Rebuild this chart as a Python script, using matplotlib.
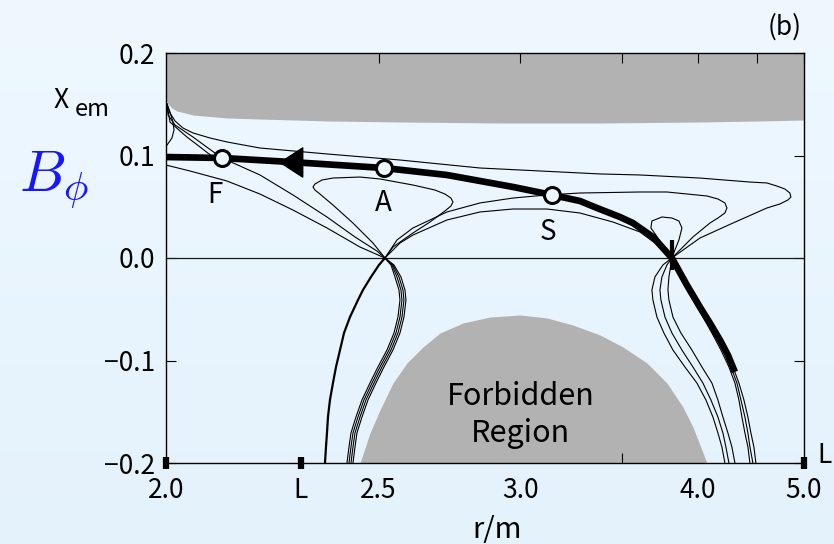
import numpy as np
import matplotlib
matplotlib.use("Agg")
import matplotlib.pyplot as plt
from matplotlib.ticker import FixedLocator, NullFormatter, NullLocator
from matplotlib.colors import LinearSegmentedColormap

plt.rcParams['font.family'] = ['Noto Sans CJK JP', 'DejaVu Sans']
plt.rcParams['mathtext.fontset'] = 'cm'

# ---------------- data (r in m, B_phi / X_em) ----------------
# upper forbidden band: lower edge
top_r = [2.0, 2.0038, 2.0113, 2.0209, 2.0364, 2.0521, 2.1217, 2.1939, 2.3568,
         2.5642, 2.9157, 3.3790, 4.0171, 4.5304, 5.0]
top_b = [0.1541, 0.1502, 0.1463, 0.1434, 0.1415, 0.1395, 0.1366, 0.1356, 0.1337,
         0.1327, 0.1317, 0.1317, 0.1327, 0.1337, 0.1346]

# lower forbidden region: upper edge
forb_r = [2.4463, 2.4747, 2.5038, 2.5427, 2.5860, 2.6373, 2.6941, 2.7750, 2.8763,
          2.9979, 3.1165, 3.2399, 3.3790, 3.5071, 3.6515, 3.7814, 3.8921, 3.9646,
          4.0171, 4.0708]
forb_b = [-0.2000, -0.1707, -0.1483, -0.1220, -0.1024, -0.0868, -0.0732, -0.0634,
          -0.0576, -0.0556, -0.0585, -0.0654, -0.0751, -0.0868, -0.1024, -0.1220,
          -0.1454, -0.1649, -0.1824, -0.2000]

# main trajectory (thick)
main_r = [2.000, 2.111, 2.264, 2.516, 2.718, 2.969, 3.140, 3.275, 3.363, 3.490,
          3.566, 3.690, 3.815, 3.920, 4.017, 4.094, 4.175, 4.241, 4.301]
main_b = [0.0985, 0.0976, 0.0937, 0.0878, 0.0810, 0.0693, 0.0615, 0.0556, 0.0488,
          0.0400, 0.0341, 0.0205, 0.0, -0.0263, -0.0478, -0.0634, -0.0800,
          -0.0946, -0.1112]

# marked points on the trajectory
pt_names = ["F", "A", "S"]
pt_r = [2.1112, 2.5157, 3.1395]
pt_b = [0.0976, 0.0878, 0.0615]
arrow_r, arrow_b = 2.2664, 0.0937

# X-points
xpt_left = (2.5186, 0.0)
xpt_right = (3.8153, 0.0)

# thin curves above the axis
c1_r = [2.0019, 2.0075, 2.0171, 2.0325, 2.0521, 2.0863, 2.1217, 2.1939, 2.3568,
        2.5642, 2.8379, 3.3790, 3.6082, 4.0171, 4.4360, 4.5990, 4.7006, 4.7852,
        4.8395, 4.8506, 4.8177, 4.7319, 4.5990, 4.2841, 4.0171, 3.8153]
c1_b = [0.1502, 0.1415, 0.1337, 0.1268, 0.1220, 0.1171, 0.1132, 0.1073, 0.1015,
        0.0956, 0.0878, 0.0820, 0.0810, 0.0780, 0.0741, 0.0732, 0.0702, 0.0673,
        0.0634, 0.0595, 0.0566, 0.0527, 0.0488, 0.0341, 0.0195, 0.0]

c2_r = [2.5186, 2.5550, 2.6050, 2.7182, 2.8379, 2.9686, 3.1165, 3.2748, 3.6082,
        3.7814, 4.0708, 4.1584, 4.2160, 4.2330, 4.2160, 4.1584, 4.0943, 3.9646,
        3.8153]
c2_b = [0.0, 0.0176, 0.0293, 0.0449, 0.0537, 0.0585, 0.0615, 0.0634, 0.0644,
        0.0644, 0.0605, 0.0576, 0.0537, 0.0488, 0.0439, 0.0390, 0.0341, 0.0205,
        0.0]

c3_r = [2.5186, 2.5642, 2.6050, 2.7182, 2.8379, 2.9686, 3.1165, 3.2748, 3.4502,
        3.6082, 3.7023, 3.8153]
c3_b = [0.0, 0.0146, 0.0224, 0.0371, 0.0449, 0.0478, 0.0478, 0.0439, 0.0351,
        0.0254, 0.0146, 0.0]

c4_r = [2.5186, 2.4834, 2.4267, 2.3725, 2.3386, 2.3258, 2.3208, 2.3258, 2.3438,
        2.3725, 2.4463, 2.5038, 2.6050, 2.6772, 2.7113, 2.7322, 2.7392, 2.7322,
        2.7113, 2.6604, 2.6050, 2.5427, 2.5186]
c4_b = [0.0, 0.0146, 0.0341, 0.0517, 0.0624, 0.0663, 0.0693, 0.0722, 0.0761,
        0.0780, 0.0790, 0.0771, 0.0712, 0.0663, 0.0624, 0.0585, 0.0546, 0.0507,
        0.0459, 0.0351, 0.0244, 0.0107, 0.0]

c5_r = [2.0019, 2.0038, 2.0171, 2.0521, 2.0966, 2.1112, 2.1939, 2.2712, 2.3568,
        2.4323, 2.4950, 2.5186]
c5_b = [0.1502, 0.1395, 0.1298, 0.1180, 0.1024, 0.0976, 0.0810, 0.0615, 0.0400,
        0.0205, 0.0068, 0.0]

c5b_r = [2.0019, 2.0075, 2.0267, 2.0403, 2.0661, 2.0925, 2.1175]
c5b_b = [0.1502, 0.1327, 0.1239, 0.1180, 0.1083, 0.0985, 0.0927]

c6_r = [2.0, 2.0461, 2.1217, 2.1939, 2.2712, 2.3568, 2.4463, 2.5186]
c6_b = [0.0907, 0.0849, 0.0751, 0.0624, 0.0468, 0.0293, 0.0107, 0.0]

c7_r = [3.8153, 3.7681, 3.7218, 3.6767, 3.6831, 3.7480, 3.8153, 3.8638, 3.8850,
        3.8638, 3.8358, 3.8153]
c7_b = [0.0, 0.0098, 0.0195, 0.0293, 0.0361, 0.0400, 0.0390, 0.0361, 0.0293,
        0.0176, 0.0078, 0.0]

c8_r = [2.0019, 2.0075, 2.0132, 2.0152, 2.0113, 2.0019]
c8_b = [0.1502, 0.1424, 0.1327, 0.1249, 0.1171, 0.1102]

# thin curves below the axis (shared B levels)
low_b = [0.0, -0.0068, -0.0185, -0.0312, -0.0410, -0.0576, -0.0732, -0.0898,
         -0.1063, -0.1220, -0.1385, -0.1551, -0.1707, -0.1844, -0.2]

low_left = [
    [2.5186, 2.5009, 2.4776, 2.4547, 2.4406, 2.4184, 2.4021, 2.3913, 2.3806,
     2.3725, 2.3646, 2.3594, 2.3568, 2.3542, 2.3516],
    [2.5186, 2.5458, 2.5673, 2.5798, 2.5829, 2.5766, 2.5642, 2.5427, 2.5157,
     2.4921, 2.4690, 2.4519, 2.4378, 2.4323, 2.4267],
    [2.5186, 2.5427, 2.5611, 2.5735, 2.5766, 2.5704, 2.5580, 2.5367, 2.5097,
     2.4863, 2.4632, 2.4463, 2.4323, 2.4267, 2.4212],
    [2.5186, 2.5397, 2.5550, 2.5673, 2.5704, 2.5642, 2.5518, 2.5306, 2.5038,
     2.4805, 2.4575, 2.4406, 2.4267, 2.4212, 2.4157],
    [2.5186, 2.5367, 2.5488, 2.5611, 2.5642, 2.5580, 2.5458, 2.5246, 2.4979,
     2.4747, 2.4519, 2.4350, 2.4212, 2.4157, 2.4102],
]
low_right = [
    [3.8153, 3.7546, 3.7023, 3.6831, 3.6895, 3.7153, 3.7612, 3.8222, 3.9064,
     3.9944, 4.0631, 4.1181, 4.1584, 4.1911, 4.2160],
    [3.8153, 3.7814, 3.7480, 3.7348, 3.7414, 3.7681, 3.8153, 3.8850, 3.9646,
     4.0399, 4.1022, 4.1584, 4.1994, 4.2244, 4.2499],
    [3.8153, 3.8083, 3.7948, 3.7882, 3.7948, 3.8222, 3.8779, 3.9573, 4.0323,
     4.1101, 4.1584, 4.1994, 4.2413, 4.2754, 4.3015],
    [3.8153, 3.8358, 3.8779, 3.9208, 3.9646, 4.0399, 4.1101, 4.1829, 4.2499,
     4.3015, 4.3365, 4.3632, 4.3902, 4.4175, 4.4360],
    [3.8153, 3.8427, 3.8850, 3.9353, 3.9795, 4.0553, 4.1261, 4.1994, 4.2668,
     4.3189, 4.3543, 4.3902, 4.4175, 4.4360, 4.4639],
    [3.8153, 3.8497, 3.8921, 3.9426, 3.9944, 4.0708, 4.1421, 4.2160, 4.2841,
     4.3365, 4.3812, 4.4175, 4.4452, 4.4733, 4.4921],
]

# axis ticks / labels
x_label_pos = [2.0, 2.29, 2.5, 3.0, 4.0, 5.0]
x_label_txt = ["2.0", "L", "2.5", "3.0", "4.0", "5.0"]
x_minor_bottom = [2.5, 3.0, 3.5, 4.0, 5.0]
x_ticks_top = [2.5, 3.0, 3.5, 4.0, 4.5, 5.0]
l_marks = [2.0, 2.29, 5.0]
y_ticks = [-0.2, -0.1, 0.0, 0.1, 0.2]
y_tick_txt = ["\u22120.2", "\u22120.1", "0.0", "0.1", "0.2"]

# ---------------- drawing ----------------
GRAY = "#b2b2b2"
BG_TOP, BG_BOT = "#eff8ff", "#e4f2fc"
W, H = 834, 544

fig = plt.figure(figsize=(W / 100, H / 100), dpi=100)

bg = fig.add_axes([0, 0, 1, 1], zorder=-10)
bg.imshow(np.linspace(0, 1, 256)[:, None], aspect="auto",
          cmap=LinearSegmentedColormap.from_list("bg", [BG_TOP, BG_BOT]),
          extent=[0, 1, 0, 1])
bg.axis("off")


def fwd(r):
    with np.errstate(divide="ignore"):
        return -1.0 / np.asarray(r, dtype=float)


def inv(v):
    with np.errstate(divide="ignore"):
        return -1.0 / np.asarray(v, dtype=float)


ax = fig.add_axes([166 / W, 81 / H, 638 / W, 410 / H])
ax.set_facecolor("none")
ax.set_xscale("function", functions=(fwd, inv))
ax.set_xlim(2.0, 5.0)
ax.set_ylim(-0.2, 0.2)

ax.fill_between(top_r, top_b, 0.2, color=GRAY, lw=0, zorder=1)
ax.fill_between(forb_r, -0.2, forb_b, color=GRAY, lw=0, zorder=1)
ax.axhline(0.0, color="#1a1a1a", lw=0.9, zorder=2)

thin = dict(color="black", lw=0.8, zorder=3, solid_joinstyle="round")
for rr, bb in [(c1_r, c1_b), (c2_r, c2_b), (c3_r, c3_b), (c4_r, c4_b),
               (c5_r, c5_b), (c5b_r, c5b_b), (c6_r, c6_b), (c7_r, c7_b),
               (c8_r, c8_b)]:
    ax.plot(rr, bb, **thin)
for i, rr in enumerate(low_left):
    ax.plot(rr, low_b, color="black", lw=1.6 if i == 0 else 0.8, zorder=3,
            solid_joinstyle="round")
for rr in low_right:
    ax.plot(rr, low_b, **thin)

ax.plot(main_r, main_b, color="black", lw=4.8, zorder=4,
        solid_capstyle="butt", solid_joinstyle="round")

# direction arrow
arrow_verts = [(-1, 0), (1, 1.3), (1, -1.3), (-1, 0)]
ax.plot([arrow_r], [arrow_b], marker=arrow_verts, ms=21, color="black",
        ls="none", zorder=5)

# marked points and their letters
ax.plot(pt_r, pt_b, ls="none", marker="o", ms=11.5, mfc="#edf7fe",
        mec="black", mew=2.2, zorder=6)
offsets = [(-7, -37), (-1, -35), (-4, -37)]
for name, rr, bb, off in zip(pt_names, pt_r, pt_b, offsets):
    ax.annotate(name, (rr, bb), xytext=off, textcoords="offset pixels",
                ha="center", va="center", fontsize=20, zorder=7)

# X-point marker on the right
ax.plot([xpt_right[0]], [xpt_right[1] + 0.003], marker="|", ms=21, mew=3,
        color="black", zorder=6)

ax.text(3.0, -0.153, "Forbidden\nRegion", ha="center", va="center",
        fontsize=22, linespacing=1.25, zorder=5)

# bottom L markers
ax.plot(l_marks, [-0.2] * len(l_marks), ls="none", marker="|", ms=8, mew=4.5,
        color="black", clip_on=False, zorder=8)
ax.annotate("L", (5.0, -0.2), xytext=(13, 0), textcoords="offset pixels",
            ha="left", va="baseline", fontsize=19, annotation_clip=False)

# spines and ticks
for s in ax.spines.values():
    s.set_linewidth(1.0)
    s.set_color("black")
    s.set_zorder(9)

ax.xaxis.set_major_locator(FixedLocator(x_label_pos))
ax.xaxis.set_major_formatter(plt.FixedFormatter(x_label_txt))
ax.xaxis.set_minor_locator(FixedLocator(x_minor_bottom))
ax.xaxis.set_minor_formatter(NullFormatter())
ax.tick_params(axis="x", which="major", length=0, pad=10, labelsize=19)
ax.tick_params(axis="x", which="minor", direction="in", length=7, width=0.8,
               bottom=True, top=False)

ax.yaxis.set_major_locator(FixedLocator(y_ticks))
ax.yaxis.set_major_formatter(plt.FixedFormatter(y_tick_txt))
ax.yaxis.set_minor_locator(NullLocator())
ax.tick_params(axis="y", direction="in", length=7, width=0.8, left=True,
               right=True, labelsize=19, pad=8)

ax2 = ax.twiny()
ax2.set_xscale("function", functions=(fwd, inv))
ax2.set_xlim(2.0, 5.0)
ax2.xaxis.set_major_locator(FixedLocator(x_ticks_top))
ax2.xaxis.set_minor_locator(NullLocator())
ax2.tick_params(axis="x", direction="in", length=7, width=0.8, labeltop=False,
                top=True, bottom=False)
for s in ax2.spines.values():
    s.set_visible(False)

# figure labels
fig.text(785 / W, 1 - 27 / H, "(b)", ha="center", va="center", fontsize=19)
fig.text(61 / W, 1 - 100 / H, "X", ha="center", va="center", fontsize=19)
fig.text(92 / W, 1 - 110 / H, "em", ha="center", va="center", fontsize=17)
fig.text(54 / W, 1 - 180 / H, r"$B_\phi$", ha="center", va="center",
         fontsize=42, color="#1616ff")
fig.text(497 / W, 1 - 530 / H, "r/m", ha="center", va="center", fontsize=21)

fig.savefig("out.png", dpi=100)
